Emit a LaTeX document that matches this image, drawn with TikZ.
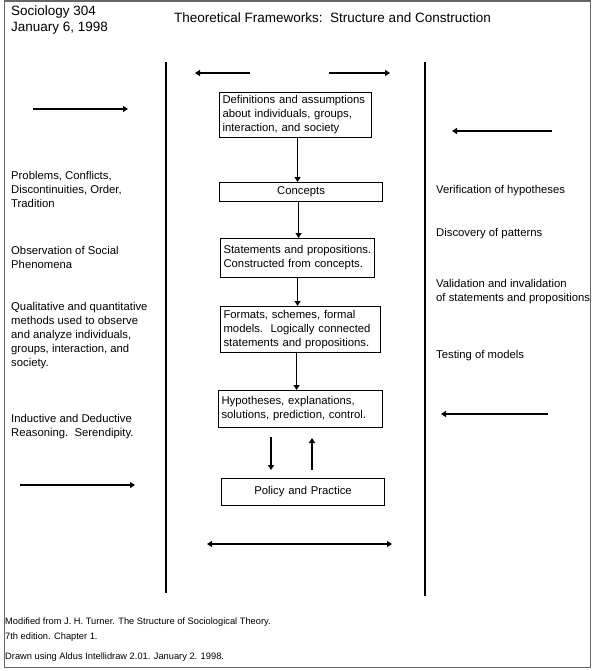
\documentclass[tikz,border=0pt]{standalone}
\usepackage{fontspec}
\setmainfont{Liberation Sans}
\usetikzlibrary{arrows.meta}
\hyphenpenalty=10000
\exhyphenpenalty=10000
\begin{document}
\begin{tikzpicture}[x=1pt,y=-1pt,
  txt/.style={inner sep=0pt, anchor=north west, align=left, font=\fontsize{11.3}{14}\selectfont},
  head/.style={inner sep=0pt, anchor=north west, align=left, font=\fontsize{13.5}{16}\selectfont},
  foot/.style={inner sep=0pt, anchor=north west, align=left, font=\fontsize{9.3}{15}\selectfont},
  box/.style={draw, line width=1.1pt, rectangle, anchor=north west, inner xsep=3pt, inner ysep=0pt,
     align=left, font=\fontsize{11.3}{14}\selectfont},
  cbox/.style={box, align=center},
  arr/.style={line width=1.2pt, -{Triangle[length=5pt,width=6pt]}},
  darr/.style={line width=1.2pt, {Triangle[length=5pt,width=6pt]}-{Triangle[length=5pt,width=6pt]}},
  divider/.style={line width=1.3pt}]
\useasboundingbox (0,0) rectangle (600,671);
% outer frame
\draw[line width=1.6pt, black!60] (4.5,1) rectangle (590.5,667.5);
% header
\node[head] (course) at (11,6) {Sociology 304\\January 6, 1998};
\node[head] (title) at (174,13) {Theoretical Frameworks:\ \ Structure and Construction};
% dividers
\coordinate (dl1) at (166,62); \coordinate (dl2) at (166,593);
\coordinate (dr1) at (425,62); \coordinate (dr2) at (425,596);
\draw[divider] (dl1) -- (dl2);
\draw[divider] (dr1) -- (dr2);
% boxes
\node[box, minimum width=152, minimum height=45, text width=146] (b1) at (219,92)
  {Definitions and assumptions\\about individuals, groups,\\interaction, and society};
\node[cbox, minimum width=163, minimum height=19, text width=157] (b2) at (219,182) {Concepts};
\node[box, minimum width=154, minimum height=39, text width=148] (b3) at (220,238)
  {Statements and propositions.\\Constructed from concepts.};
\node[box, minimum width=160, minimum height=46, text width=154] (b4) at (220,306)
  {Formats, schemes, formal\\models.\ \ Logically connected\\statements and propositions.};
\node[box, minimum width=164, minimum height=37, text width=158] (b5) at (218,390)
  {Hypotheses, explanations,\\solutions, prediction, control.};
\node[cbox, minimum width=163, minimum height=27, text width=157] (b6) at (221,478) {Policy and Practice};
% flow arrows
\draw[arr] ([xshift=2pt]b1.south) -- ([xshift=2pt]b1.south |- b2.north);
\draw[arr] ([xshift=-2.5pt]b2.south) -- ([xshift=-2.5pt]b2.south |- b3.north);
\draw[arr] ([xshift=0pt]b3.south) -- ([xshift=0pt]b3.south |- b4.north);
\draw[arr] ([xshift=-4pt]b4.south) -- ([xshift=-4pt]b4.south |- b5.north);
\coordinate (pd1) at (271,437); \coordinate (pd2) at (271,470);
\coordinate (pu1) at (312,470); \coordinate (pu2) at (312,438);
\draw[arr] (pd1) -- (pd2);
\draw[arr] (pu1) -- (pu2);
% top arrows
\coordinate (tl1) at (250,73); \coordinate (tl2) at (195,73);
\coordinate (tr1) at (329,73); \coordinate (tr2) at (390,73);
\draw[arr] (tl1) -- (tl2);
\draw[arr] (tr1) -- (tr2);
% bottom double arrow
\coordinate (bd1) at (207,544); \coordinate (bd2) at (392,544);
\draw[darr] (bd1) -- (bd2);
% side arrows
\coordinate (la1) at (33,109); \coordinate (la2) at (128,109);
\draw[arr] (la1) -- (la2);
\coordinate (lb1) at (20,485); \coordinate (lb2) at (135,485);
\draw[arr] (lb1) -- (lb2);
\coordinate (ra1) at (552,131); \coordinate (ra2) at (452,131);
\draw[arr] (ra1) -- (ra2);
\coordinate (rb1) at (548,414); \coordinate (rb2) at (441,414);
\draw[arr] (rb1) -- (rb2);
% left texts
\node[txt] (l1) at (11,171) {Problems, Conflicts,\\Discontinuities, Order,\\Tradition};
\node[txt] (l2) at (11,246) {Observation of Social\\Phenomena};
\node[txt] (l3) at (11,302) {Qualitative and quantitative\\methods used to observe\\and analyze individuals,\\groups, interaction, and\\society.};
\node[txt] (l4) at (11,414) {Inductive and Deductive\\Reasoning.\ \ Serendipity.};
% right texts
\node[txt] (r1) at (436,185) {Verification of hypotheses};
\node[txt] (r2) at (436,228) {Discovery of patterns};
\node[txt] (r3) at (436,279) {Validation and invalidation\\of statements and propositions};
\node[txt] (r4) at (436,350) {Testing of models};
% footer
\node[foot] (f1) at (5,618) {Modified from J. H. Turner. The Structure of Sociological Theory.\\7th edition. Chapter 1.};
\node[foot] (f2) at (5,653) {Drawn using Aldus Intellidraw 2.01. January 2. 1998.};
\end{tikzpicture}
\end{document}
